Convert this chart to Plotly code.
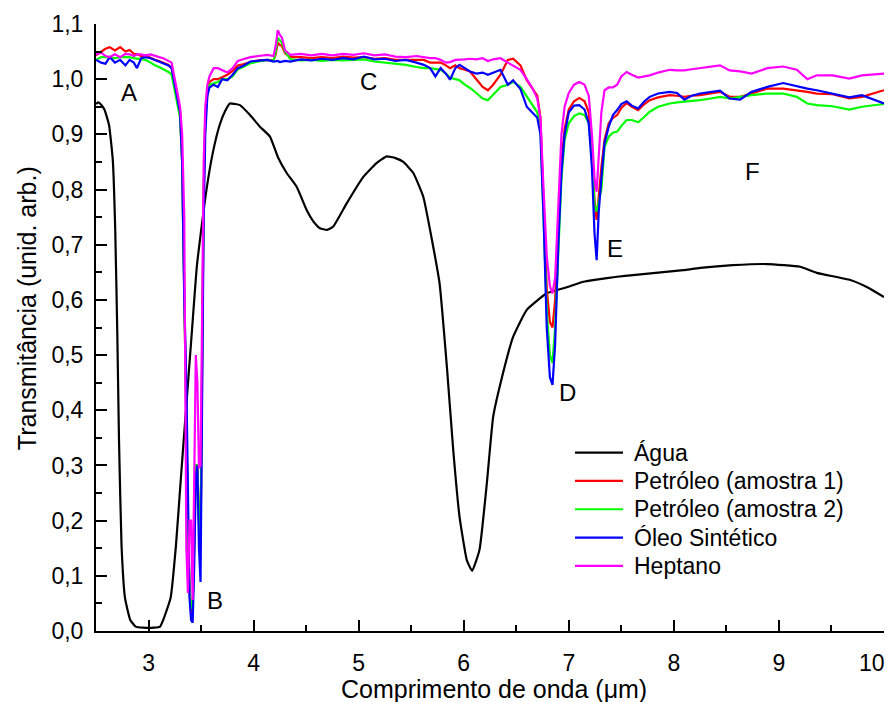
import plotly.graph_objects as go

# ---------------- data ----------------
agua_x = [2.50, 2.52, 2.543, 2.58, 2.624, 2.66, 2.683, 2.703, 2.719, 2.743, 2.776, 2.826, 2.877,
          2.95, 3.05, 3.11, 3.14, 3.21, 3.261, 3.309, 3.36, 3.41, 3.461, 3.544, 3.611, 3.677,
          3.728, 3.775, 3.82, 3.87, 3.966, 4.06, 4.156, 4.235, 4.315, 4.41, 4.505, 4.57, 4.632,
          4.70, 4.758, 4.886, 5.044, 5.17, 5.267, 5.35, 5.425, 5.52, 5.615, 5.71, 5.77, 5.84,
          5.90, 5.96, 6.03, 6.08, 6.15, 6.22, 6.28, 6.35, 6.47, 6.60, 6.79, 6.98, 7.14, 7.23,
          7.46, 7.61, 8.09, 8.25, 8.56, 8.89, 9.20, 9.36, 9.68, 9.85, 10.0]
agua_y = [0.955, 0.958, 0.955, 0.945, 0.917, 0.853, 0.727, 0.536, 0.345, 0.155, 0.06, 0.02, 0.008,
          0.006, 0.006, 0.008, 0.02, 0.06, 0.155, 0.28, 0.41, 0.536, 0.663, 0.79, 0.866, 0.917,
          0.942, 0.956, 0.955, 0.953, 0.935, 0.914, 0.896, 0.857, 0.83, 0.805, 0.763, 0.742, 0.73,
          0.727, 0.733, 0.775, 0.823, 0.848, 0.86, 0.857, 0.85, 0.83, 0.787, 0.696, 0.63, 0.478,
          0.328, 0.207, 0.128, 0.109, 0.147, 0.268, 0.388, 0.449, 0.533, 0.582, 0.612, 0.623, 0.633, 0.636,
          0.642, 0.645, 0.654, 0.658, 0.663, 0.665, 0.66, 0.649, 0.636, 0.622, 0.605]

oil_x = [2.50, 2.55, 2.59, 2.63, 2.68, 2.73, 2.78, 2.82, 2.86, 2.89, 2.93, 2.97, 3.02, 3.06, 3.10,
         3.14, 3.19, 3.22, 3.25, 3.28,
         3.30, 3.32, 3.34, 3.36, 3.375, 3.39, 3.405, 3.42, 3.435, 3.45, 3.465, 3.48, 3.495, 3.51,
         3.525, 3.54, 3.56,
         3.58, 3.62, 3.66, 3.70, 3.75, 3.80, 3.85, 3.90, 3.97, 4.05, 4.13, 4.19, 4.21, 4.23, 4.25,
         4.27, 4.30, 4.35, 4.45, 4.55, 4.65, 4.75, 4.85, 4.95, 5.05, 5.15, 5.25, 5.35, 5.45, 5.55,
         5.62, 5.68, 5.73, 5.78, 5.83, 5.87, 5.92, 5.96, 6.01, 6.06, 6.12, 6.18, 6.23, 6.28, 6.35,
         6.42, 6.47, 6.54,
         6.60, 6.65, 6.70, 6.73, 6.76, 6.79, 6.82, 6.845, 6.87, 6.90, 6.93, 6.96, 7.00, 7.05, 7.10,
         7.15, 7.19, 7.22, 7.245, 7.265, 7.285, 7.31, 7.34, 7.38, 7.42, 7.46, 7.50, 7.55, 7.60,
         7.66, 7.72, 7.77, 7.85, 7.96, 8.03, 8.10, 8.17, 8.25, 8.35, 8.44, 8.53, 8.63, 8.74, 8.89,
         9.04, 9.17, 9.27, 9.36, 9.51, 9.67, 9.79, 10.0]

petroleo1_y = [1.043, 1.05, 1.055, 1.058, 1.052, 1.058, 1.05, 1.053, 1.046, 1.045, 1.042, 1.043,
               1.038, 1.035, 1.033, 1.03, 1.026, 1.02, 0.99, 0.96,
               0.94, 0.85, 0.6, 0.4, 0.2, 0.08, 0.03, 0.04, 0.15, 0.3, 0.3, 0.2, 0.15, 0.5,
               0.8, 0.93, 0.975,
               0.995, 1.0, 1.0, 1.004, 1.008, 1.015, 1.025, 1.027, 1.031, 1.034, 1.035, 1.034, 1.045,
               1.066, 1.062, 1.06, 1.047, 1.04, 1.04, 1.038, 1.04, 1.038, 1.041, 1.039, 1.04, 1.037,
               1.038, 1.035, 1.035, 1.034, 1.035, 1.03, 1.03, 1.03, 1.025, 1.02, 1.025, 1.02, 1.017,
               1.014, 1.0, 0.986, 0.98, 0.99, 1.008, 1.035, 1.037, 1.025,
               0.998, 0.985, 0.97, 0.93, 0.78, 0.62, 0.56, 0.55, 0.6, 0.74, 0.85, 0.91, 0.945, 0.96,
               0.966, 0.96, 0.94, 0.87, 0.78, 0.745, 0.79, 0.84, 0.89, 0.92, 0.93, 0.935, 0.948,
               0.957, 0.95, 0.944, 0.955, 0.962, 0.967, 0.971, 0.97, 0.968, 0.97, 0.971, 0.974, 0.977,
               0.968, 0.968, 0.974, 0.983, 0.983, 0.98, 0.977, 0.974, 0.973, 0.965, 0.968, 0.98]

petroleo2_y = [1.035, 1.04, 1.04, 1.04, 1.038, 1.04, 1.04, 1.04, 1.038, 1.037, 1.037, 1.035,
               1.03, 1.025, 1.022, 1.018, 1.013, 1.008, 0.98, 0.95,
               0.93, 0.85, 0.6, 0.4, 0.2, 0.07, 0.04, 0.05, 0.15, 0.3, 0.3, 0.2, 0.15, 0.5,
               0.8, 0.93, 0.975,
               0.99, 0.992, 0.995, 1.0, 1.0, 1.005, 1.018, 1.022, 1.029, 1.032, 1.035, 1.033, 1.05,
               1.075, 1.07, 1.066, 1.05, 1.036, 1.034, 1.035, 1.033, 1.035, 1.034, 1.035, 1.036, 1.032,
               1.03, 1.028, 1.026, 1.022, 1.02, 1.02, 1.018, 1.017, 1.01, 1.003, 1.0, 0.998, 0.99,
               0.984, 0.975, 0.965, 0.962, 0.972, 0.986, 0.99, 0.995, 0.986,
               0.968, 0.955, 0.94, 0.91, 0.76, 0.58, 0.5, 0.486, 0.55, 0.7, 0.82, 0.89, 0.92, 0.933,
               0.938, 0.935, 0.92, 0.86, 0.77, 0.76, 0.78, 0.8, 0.877, 0.896, 0.903, 0.905, 0.915,
               0.926, 0.926, 0.922, 0.932, 0.941, 0.95, 0.956, 0.958, 0.959, 0.96, 0.962, 0.965, 0.968,
               0.965, 0.968, 0.971, 0.974, 0.974, 0.968, 0.956, 0.953, 0.951, 0.945, 0.95, 0.955]

oleo_sintetico_y = [1.035, 1.03, 1.028, 1.04, 1.03, 1.035, 1.025, 1.035, 1.03, 1.02, 1.038, 1.04,
                    1.038, 1.035, 1.032, 1.03, 1.025, 1.02, 0.99, 0.96,
                    0.94, 0.85, 0.6, 0.45, 0.2, 0.06, 0.02, 0.015, 0.12, 0.28, 0.3, 0.15, 0.089, 0.45,
                    0.75, 0.9, 0.97,
                    0.985, 0.99, 0.986, 1.0, 0.998, 1.008, 1.02, 1.024, 1.032, 1.034, 1.035, 1.032, 1.032,
                    1.033, 1.031, 1.032, 1.033, 1.032, 1.036, 1.034, 1.037, 1.035, 1.038, 1.036, 1.041, 1.036,
                    1.037, 1.033, 1.035, 1.03, 1.026, 1.02, 1.005, 1.02, 1.01, 0.999, 1.02, 1.026, 1.02,
                    1.014, 1.01, 1.012, 1.008, 1.012, 1.017, 0.99, 0.998, 0.982,
                    0.95, 0.94, 0.93, 0.9, 0.75, 0.55, 0.46, 0.446, 0.52, 0.7, 0.83, 0.9, 0.94, 0.952,
                    0.953, 0.945, 0.92, 0.84, 0.72, 0.672, 0.76, 0.82, 0.884, 0.914, 0.935, 0.944, 0.955,
                    0.96, 0.952, 0.947, 0.96, 0.968, 0.974, 0.977, 0.975, 0.963, 0.97, 0.974, 0.977, 0.979,
                    0.965, 0.963, 0.977, 0.986, 0.993, 0.987, 0.983, 0.98, 0.974, 0.967, 0.971, 0.956]

heptano_y = [1.045, 1.048, 1.042, 1.04, 1.045, 1.04, 1.046, 1.045, 1.042, 1.045, 1.045, 1.043,
             1.045, 1.042, 1.04, 1.038, 1.033, 1.03, 1.0, 0.97,
             0.95, 0.9, 0.75, 0.15, 0.069, 0.2, 0.2, 0.056, 0.3, 0.5, 0.45, 0.295, 0.3, 0.6,
             0.85, 0.95, 0.99,
             1.005, 1.02, 1.02, 1.017, 1.012, 1.02, 1.033, 1.036, 1.04, 1.042, 1.044, 1.042, 1.06,
             1.089, 1.08, 1.075, 1.052, 1.044, 1.046, 1.043, 1.046, 1.043, 1.046, 1.044, 1.047, 1.043,
             1.045, 1.041, 1.04, 1.042, 1.04, 1.038, 1.038, 1.035, 1.03, 1.031, 1.035, 1.035, 1.036,
             1.037, 1.036, 1.038, 1.033, 1.036, 1.038, 1.03, 1.025, 1.017,
             1.0, 0.985, 0.965, 0.93, 0.8, 0.68, 0.625, 0.612, 0.64, 0.78, 0.9, 0.95, 0.975, 0.99,
             0.995, 0.99, 0.97, 0.9, 0.82, 0.796, 0.87, 0.94, 0.98, 0.985, 0.985, 0.99, 1.005,
             1.013, 1.008, 1.003, 1.005, 1.007, 1.012, 1.017, 1.016, 1.016, 1.018, 1.02, 1.022, 1.025,
             1.016, 1.014, 1.01, 1.02, 1.023, 1.017, 1.0, 1.007, 1.007, 1.001, 1.007, 1.01]

series_names = ["Água", "Petróleo (amostra 1)", "Petróleo (amostra 2)", "Óleo Sintético", "Heptano"]
series_colors = ["#000000", "#ff0000", "#00ff00", "#0000ff", "#ff00ff"]

peak_labels = ["A", "B", "C", "D", "E", "F"]
peak_x = [2.81, 3.63, 5.09, 6.99, 7.44, 8.75]
peak_y = [0.976, 0.056, 0.995, 0.433, 0.694, 0.832]

x_ticks = [3, 4, 5, 6, 7, 8, 9, 10]
x_tick_text = ["3", "4", "5", "6", "7", "8", "9", "10"]
y_ticks = [0.0, 0.1, 0.2, 0.3, 0.4, 0.5, 0.6, 0.7, 0.8, 0.9, 1.0, 1.1]

x_title = "Comprimento de onda (μm)"
y_title = "Transmitância (unid. arb.)"

# ---------------- figure ----------------
FONT = "Liberation Sans, Arial, sans-serif"
fig = go.Figure()

all_y = [agua_y, petroleo1_y, petroleo2_y, oleo_sintetico_y, heptano_y]
for i, (name, col, ys) in enumerate(zip(series_names, series_colors, all_y)):
    xs = agua_x if i == 0 else oil_x
    line = dict(color=col, width=2.2)
    if i == 0:
        line.update(shape="spline", smoothing=0.4)
    fig.add_trace(go.Scatter(x=xs, y=ys, mode="lines", name=name, line=line, showlegend=False))

# legend (drawn as paper-positioned line samples + text, to match the original spacing)
LEG_LINE_X0, LEG_LINE_X1, LEG_TEXT_X = 0.6079, 0.6688, 0.680
LEG_TOP_Y, LEG_STEP = 0.294, 0.0467
for i, (name, col) in enumerate(zip(series_names, series_colors)):
    yy = LEG_TOP_Y - i * LEG_STEP
    fig.add_shape(type="line", xref="paper", yref="paper", x0=LEG_LINE_X0, x1=LEG_LINE_X1,
                  y0=yy, y1=yy, line=dict(color=col, width=2.2))
    fig.add_annotation(xref="paper", yref="paper", x=LEG_TEXT_X, y=yy, xanchor="left",
                       yanchor="middle", text=name, showarrow=False,
                       font=dict(family=FONT, size=23, color="black"))

for lab, px, py in zip(peak_labels, peak_x, peak_y):
    fig.add_annotation(x=px, y=py, text=lab, showarrow=False,
                       font=dict(family=FONT, size=24, color="black"))

# the last x tick label sits at the right edge of the page: written as text, right-aligned
fig.add_annotation(x=x_ticks[-1], xref="x", y=-0.053, yref="paper", xanchor="right",
                   yanchor="middle", xshift=3, text=x_tick_text[-1], showarrow=False,
                   font=dict(family=FONT, size=23, color="black"))

# axis titles placed as text annotations (paper coordinates)
fig.add_annotation(xref="paper", yref="paper", x=0.505, y=-0.095, xanchor="center", yanchor="middle",
                   text=x_title, showarrow=False, font=dict(family=FONT, size=25, color="black"))
fig.add_annotation(xref="paper", yref="paper", x=-0.0875, y=0.532, xanchor="center", yanchor="middle",
                   text=y_title, textangle=-90, showarrow=False,
                   font=dict(family=FONT, size=25, color="black"))

axis_common = dict(
    showline=True, linecolor="black", linewidth=2, mirror=False,
    ticks="inside", ticklen=11, tickwidth=2, tickcolor="black",
    showgrid=False, zeroline=False, automargin=False,
    tickfont=dict(family=FONT, size=23, color="black"),
)

fig.update_xaxes(
    range=[2.5, 10], tickvals=x_ticks, ticktext=x_tick_text[:-1] + [""], ticklabelstandoff=10,
    minor=dict(ticks="inside", ticklen=6, tickwidth=2, tickcolor="black", dtick=0.5, tick0=2.5),
    **axis_common)
fig.update_yaxes(
    range=[0, 1.1], tickvals=y_ticks, tickformat=".1f", ticklabelstandoff=6,
    minor=dict(ticks="inside", ticklen=6, tickwidth=2, tickcolor="black", dtick=0.05, tick0=0),
    **axis_common)

# the page body adds an 8 px offset, so the plot area is placed to land where the original's is
fig.update_layout(
    width=888, height=694,
    margin=dict(l=88, r=12, t=16, b=71),
    paper_bgcolor="white", plot_bgcolor="white",
    separators=",.",
    font=dict(family=FONT, color="black"),
    showlegend=False,
)

fig.write_html("out.html")
